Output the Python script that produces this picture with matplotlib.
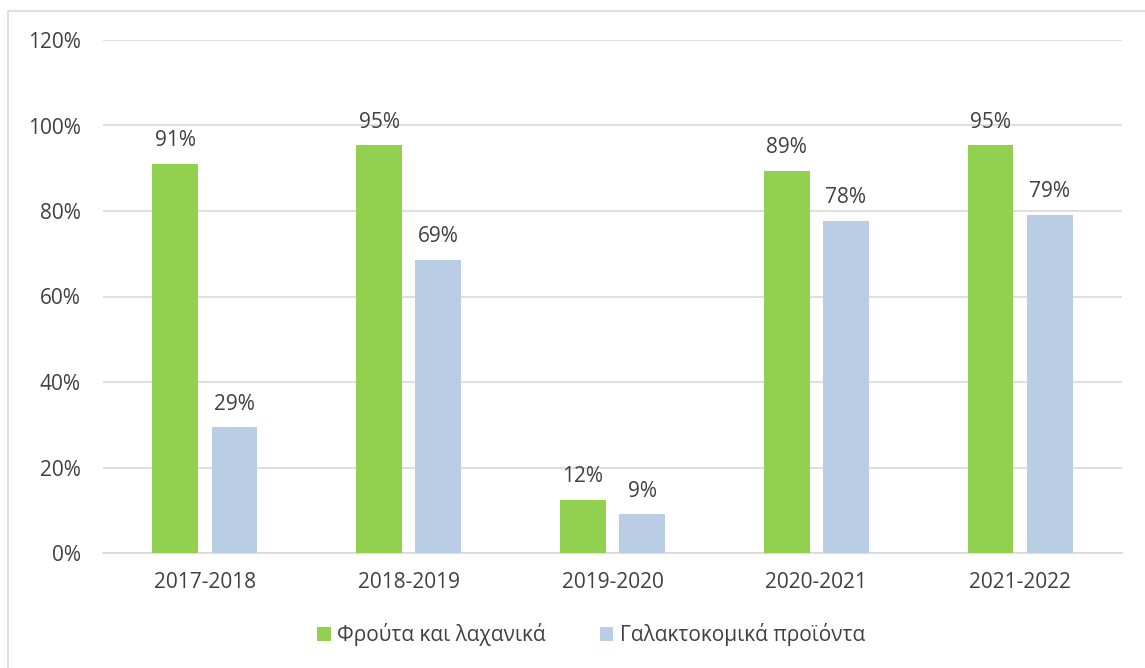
import matplotlib
matplotlib.use("Agg")
import matplotlib.pyplot as plt
from matplotlib.patches import Rectangle
import numpy as np

categories = ["2017-2018", "2018-2019", "2019-2020", "2020-2021", "2021-2022"]
fruits = [91.0, 95.4, 12.4, 89.4, 95.4]
dairy = [29.4, 68.6, 9.1, 77.7, 79.1]
series_names = ["Φρούτα και λαχανικά", "Γαλακτοκομικά προϊόντα"]
yticks = [0, 20, 40, 60, 80, 100, 120]

plt.rcParams['font.family'] = ['Open Sans', 'DejaVu Sans']
text_color = "#404040"
green = "#92d050"
blue = "#b9cde5"
fs = 15

fig = plt.figure(figsize=(11.45, 6.68), dpi=100)
# chart border
fig.patches.append(Rectangle((8/1145, -0.01), 1.2, (668-11)/668 + 0.01, transform=fig.transFigure,
                             fill=False, edgecolor="#d9d9d9", linewidth=1.2))

ax = fig.add_axes([103/1145, (668-553)/668, (1122-103)/1145, (553-40)/668])
x = np.arange(len(categories))
w = 0.225
off = 0.145
b1 = ax.bar(x - off, fruits, w, color=green, label=series_names[0], zorder=3)
b2 = ax.bar(x + off, dairy, w, color=blue, label=series_names[1], zorder=3)

for bars, vals in ((b1, fruits), (b2, dairy)):
    for r, v in zip(bars, vals):
        ax.annotate(f"{round(v)}%", (r.get_x() + r.get_width()/2, v), xytext=(0, 9),
                    textcoords="offset points", ha="center", va="bottom",
                    fontsize=fs, color=text_color)

ax.set_xlim(-0.5, len(categories) - 0.5)
ax.set_ylim(0, 120)
ax.set_yticks(yticks)
ax.set_yticklabels([f"{t}%" for t in yticks])
ax.set_xticks(x)
ax.set_xticklabels(categories)
ax.tick_params(axis="both", length=0, labelsize=fs, labelcolor=text_color)
ax.tick_params(axis="y", pad=16)
ax.tick_params(axis="x", pad=14)
ax.grid(axis="y", color="#d9d9d9", linewidth=1.2, zorder=0)
for s in ["top", "right", "left"]:
    ax.spines[s].set_visible(False)
ax.spines["bottom"].set_color("#d9d9d9")
ax.spines["bottom"].set_linewidth(1.2)

fig.legend(handles=[b1, b2], labels=series_names, loc="center", bbox_to_anchor=(591/1145, (668-635)/668),
           ncol=2, frameon=False, fontsize=fs, labelcolor=text_color, handlelength=0.65,
           handleheight=0.65, handletextpad=0.3, columnspacing=2.6)

fig.savefig("out.png", dpi=100)
